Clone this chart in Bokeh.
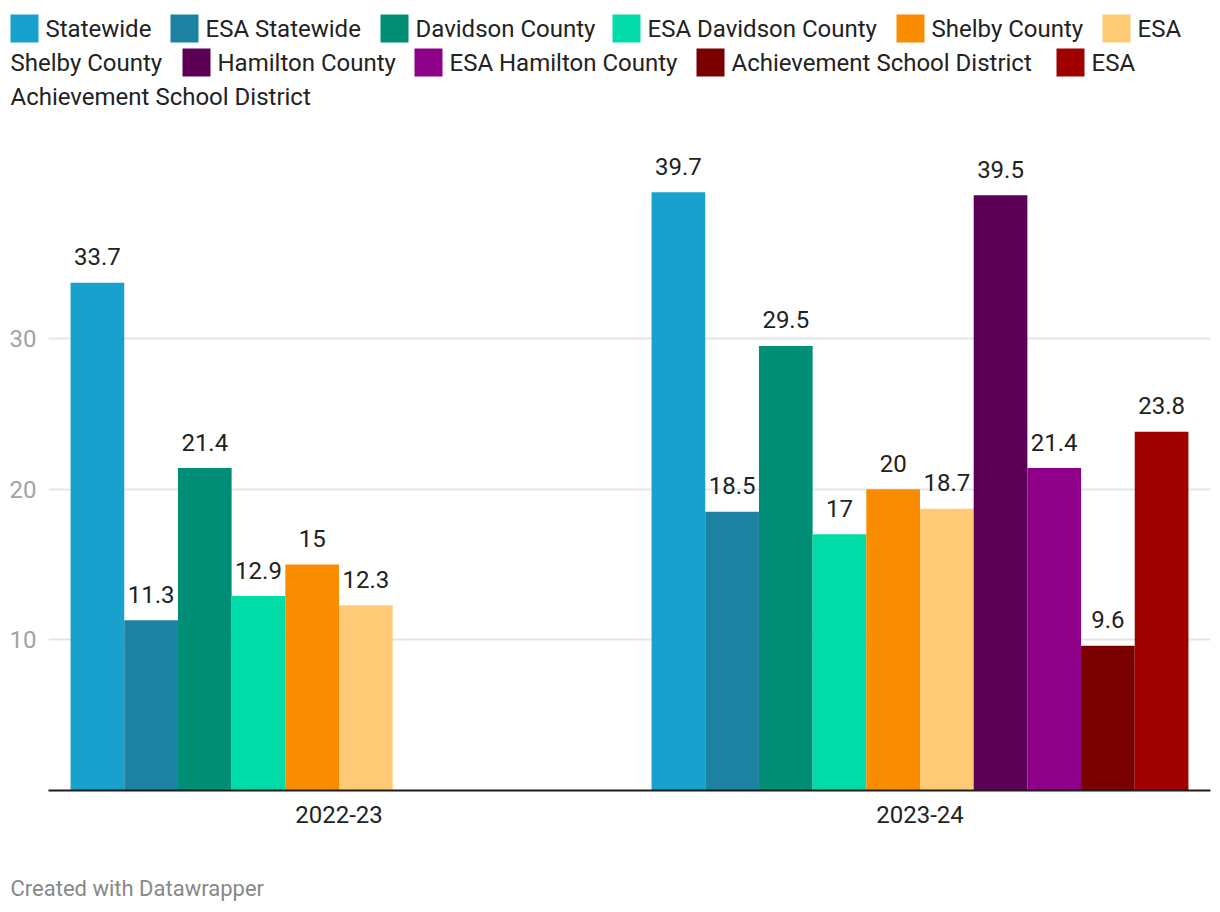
from bokeh.plotting import figure
from bokeh.models import Range1d, FactorRange, ColumnDataSource, FixedTicker
from bokeh.transform import dodge
from bokeh.layouts import column
from bokeh.core.properties import value
from bokeh.embed import file_html
from bokeh.resources import INLINE

# ---------------- data ----------------
years = ["2022-23", "2023-24"]
series = [
    "Statewide", "ESA Statewide", "Davidson County", "ESA Davidson County",
    "Shelby County", "ESA Shelby County", "Hamilton County", "ESA Hamilton County",
    "Achievement School District", "ESA Achievement School District",
]
statewide = [33.7, 39.7]
esa_statewide = [11.3, 18.5]
davidson = [21.4, 29.5]
esa_davidson = [12.9, 17]
shelby = [15, 20]
esa_shelby = [12.3, 18.7]
hamilton = [None, 39.5]
esa_hamilton = [None, 21.4]
asd = [None, 9.6]
esa_asd = [None, 23.8]
y_ticks = [10, 20, 30]

series_values = [statewide, esa_statewide, davidson, esa_davidson, shelby,
                 esa_shelby, hamilton, esa_hamilton, asd, esa_asd]

# ---------------- style ----------------
colors = ["#18a1cd", "#1d81a2", "#008e76", "#00dca7", "#fa8c00",
          "#ffca76", "#5c0057", "#8f0088", "#7a0000", "#a10000"]
FONT = value("Roboto")
TXT = "#222222"
FS = "24px"

# legend layout: (square x, row, words on first line)
legend_layout = [(10, 0, None), (170, 0, None), (380, 0, None), (612, 0, None),
                 (896, 0, None), (1102, 0, 1), (182, 1, None), (414, 1, None),
                 (696, 1, None), (1056, 1, 1)]
row_y = [28, 62, 96]

W = 1220
LEG_H = 130
MAIN_H = 730
FOOT_H = 912 - LEG_H - MAIN_H


def blank(h):
    f = figure(width=W, height=h, x_range=Range1d(0, W), y_range=Range1d(h, 0),
               output_backend="svg", toolbar_location=None,
               min_border=0, min_border_left=0, min_border_right=0,
               min_border_top=0, min_border_bottom=0,
               x_axis_location=None, y_axis_location=None,
               frame_align=False)
    f.grid.visible = False
    f.outline_line_color = None
    return f


# ---------------- legend ----------------
leg = blank(LEG_H)
sq = dict(left=[], right=[], top=[], bottom=[], color=[])
tx = dict(x=[], y=[], text=[])
for name, col, (sx, row, split) in zip(series, colors, legend_layout):
    cy = row_y[row]
    sq["left"].append(sx)
    sq["right"].append(sx + 28)
    sq["top"].append(cy - 14)
    sq["bottom"].append(cy + 14)
    sq["color"].append(col)
    words = name.split(" ")
    if split is None:
        tx["x"].append(sx + 35); tx["y"].append(cy); tx["text"].append(name)
    else:
        tx["x"].append(sx + 35); tx["y"].append(cy); tx["text"].append(" ".join(words[:split]))
        tx["x"].append(10); tx["y"].append(row_y[row + 1]); tx["text"].append(" ".join(words[split:]))
leg.quad(left="left", right="right", top="top", bottom="bottom", color="color",
         source=ColumnDataSource(sq), line_color=None)
leg.text(x="x", y="y", text="text", source=ColumnDataSource(tx),
         text_font=FONT, text_font_size=FS, text_color=TXT,
         text_baseline="middle", text_align="left")

# ---------------- main chart ----------------
p = figure(width=W, height=MAIN_H,
           x_range=FactorRange(factors=years, range_padding=0),
           y_range=Range1d(0, 43.8),
           output_backend="svg", toolbar_location=None,
           min_border_left=48, min_border_right=10,
           min_border_top=0, min_border_bottom=70, frame_align=False)
p.outline_line_color = None
p.xgrid.visible = False
p.ygrid.grid_line_color = "#e6e6e6"
p.ygrid.grid_line_width = 2
p.yaxis.ticker = FixedTicker(ticks=y_ticks)
p.yaxis.axis_line_color = None
p.yaxis.major_tick_line_color = None
p.yaxis.minor_tick_line_color = None
p.yaxis.major_label_text_font = "Roboto"
p.yaxis.major_label_text_font_size = FS
p.yaxis.major_label_text_color = "#a3a3a3"
p.yaxis.major_label_standoff = 6

p.xaxis.axis_line_color = "#1d1d1d"
p.xaxis.axis_line_width = 2
p.xaxis.major_tick_line_color = None
p.xaxis.minor_tick_line_color = None
p.xaxis.major_label_text_font = "Roboto"
p.xaxis.major_label_text_font_size = FS
p.xaxis.major_label_text_color = TXT
p.xaxis.major_label_standoff = 9

n = len(series)
bar_w = 0.0924
for i, (name, vals, col) in enumerate(zip(series, series_values, colors)):
    xs = [y for y, v in zip(years, vals) if v is not None]
    vs = [v for v in vals if v is not None]
    src = ColumnDataSource(dict(year=xs, val=vs, label=[f"{v:g}" for v in vs]))
    off = (i - (n - 1) / 2) * bar_w
    p.vbar(x=dodge("year", off, range=p.x_range), top="val", width=bar_w,
           source=src, color=col, line_color=None)
    p.text(x=dodge("year", off, range=p.x_range), y="val", text="label", source=src,
           text_font=FONT, text_font_size=FS, text_color=TXT,
           text_align="center", text_baseline="alphabetic", y_offset=-26)

# ---------------- footer ----------------
foot = blank(FOOT_H)
foot.text(x=[10], y=[28], text=["Created with Datawrapper"], text_font=FONT,
          text_font_size="22px", text_color="#888888", text_baseline="middle",
          text_align="left")

layout = column(leg, p, foot, spacing=0)
open("out.html", "w").write(file_html(layout, INLINE))
